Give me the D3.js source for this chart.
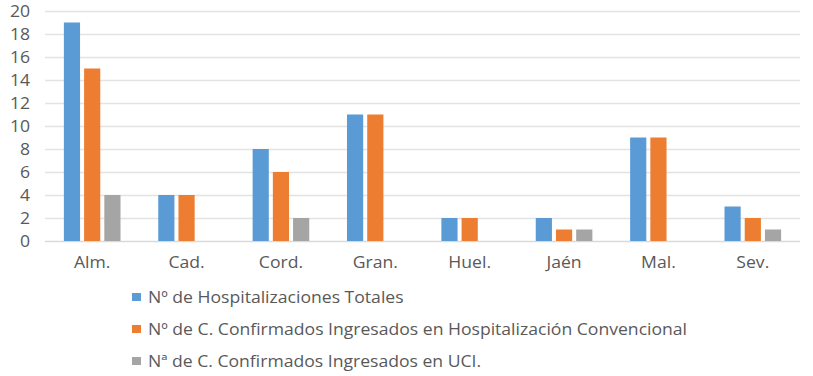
<!DOCTYPE html>
<html>
<head>
<meta charset="utf-8">
<script src="https://cdn.jsdelivr.net/npm/d3@7"></script>
<style>
  body { margin: 0; background: #fff; }
  text { font-family: "Open Sans", sans-serif; fill: #595959; }
</style>
</head>
<body>
<script>
const provinces = ["Alm.", "Cad.", "Cord.", "Gran.", "Huel.", "Jaén", "Mal.", "Sev."];
const totales = [19, 4, 8, 11, 2, 2, 9, 3];
const convencional = [15, 4, 6, 11, 2, 1, 9, 2];
const uci = [4, 0, 2, 0, 0, 1, 0, 1];
const seriesNames = [
  "Nº de Hospitalizaciones Totales",
  "Nº de C. Confirmados Ingresados en Hospitalización Convencional",
  "Nª de C. Confirmados Ingresados en UCI."
];
const colors = ["#5B9BD5", "#ED7D31", "#A5A5A5"];
const yTicks = [0, 2, 4, 6, 8, 10, 12, 14, 16, 18, 20];

const W = 813, H = 376;
const plot = { left: 45, right: 800, top: 11, bottom: 241 };
const sx = 1.1; // text looks stretched sideways in the original

const svg = d3.select("body").append("svg")
  .attr("width", W)
  .attr("height", H);

const x = d3.scaleBand()
  .domain(provinces)
  .range([plot.left, plot.right])
  .paddingInner(0.4)
  .paddingOuter(0.2);

const xInner = d3.scaleBand()
  .domain([0, 1, 2])
  .range([0, x.bandwidth()])
  .paddingInner(0.2);

const y = d3.scaleLinear()
  .domain([0, 20])
  .range([plot.bottom, plot.top]);

// gridlines
svg.append("g")
  .selectAll("line")
  .data(yTicks)
  .enter().append("line")
  .attr("x1", plot.left)
  .attr("x2", plot.right)
  .attr("y1", d => y(d) + 0.5)
  .attr("y2", d => y(d) + 0.5)
  .attr("stroke", (d) => d === 0 ? "#d9d9d9" : "#e3e3e3")
  .attr("stroke-width", 1.3);

// y labels
svg.append("g")
  .selectAll("text")
  .data(yTicks)
  .enter().append("text")
  .attr("transform", d => "translate(30," + y(d) + ") scale(" + sx + ",1)")
  .attr("dy", "0.35em")
  .attr("text-anchor", "end")
  .style("font-size", "16px")
  .text(d => d);

const series = [totales, convencional, uci];

const groups = svg.append("g")
  .selectAll("g")
  .data(provinces)
  .enter().append("g")
  .attr("transform", d => "translate(" + x(d) + ",0)");

groups.selectAll("rect")
  .data((d, i) => series.map((s, k) => ({ k: k, v: s[i] })).filter(e => e.v > 0))
  .enter().append("rect")
  .attr("x", d => xInner(d.k))
  .attr("y", d => y(d.v))
  .attr("width", xInner.bandwidth())
  .attr("height", d => y(0) - y(d.v))
  .attr("fill", d => colors[d.k]);

// x labels
svg.append("g")
  .selectAll("text")
  .data(provinces)
  .enter().append("text")
  .attr("transform", d => "translate(" + (x(d) + x.bandwidth() / 2) + ",268) scale(" + sx + ",1)")
  .attr("text-anchor", "middle")
  .style("font-size", "16px")
  .text(d => d);

// legend
const legend = svg.append("g")
  .selectAll("g")
  .data(seriesNames)
  .enter().append("g")
  .attr("transform", (d, i) => "translate(132," + (297 + i * 32) + ")");

legend.append("rect")
  .attr("x", 0)
  .attr("y", -4)
  .attr("width", 9)
  .attr("height", 8)
  .attr("fill", (d, i) => colors[i]);

legend.append("text")
  .attr("transform", "translate(16,0) scale(" + sx + ",1)")
  .attr("dy", "0.35em")
  .style("font-size", "16px")
  .text(d => d);
</script>
</body>
</html>
